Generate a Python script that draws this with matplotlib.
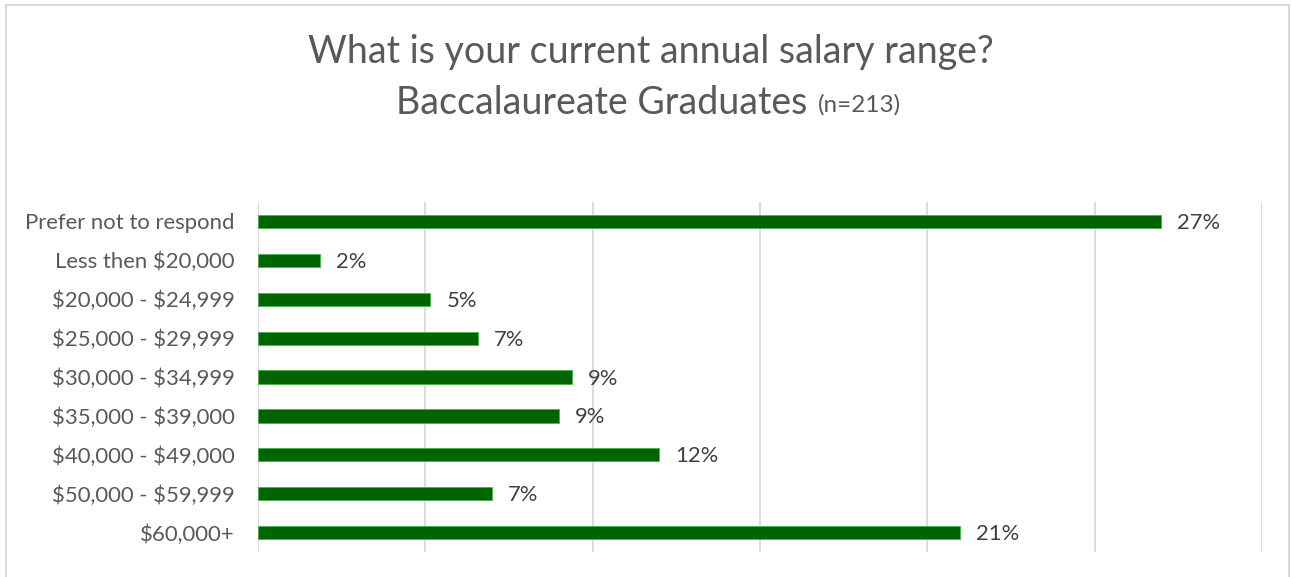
import matplotlib.pyplot as plt
from matplotlib.patches import Rectangle

# salary survey, baccalaureate graduates (n=213)
categories = ['Prefer not to respond', 'Less then $20,000', '$20,000 - $24,999',
              '$25,000 - $29,999', '$30,000 - $34,999', '$35,000 - $39,000',
              '$40,000 - $49,000', '$50,000 - $59,999', '$60,000+']
percents = [26.98, 1.85, 5.15, 6.57, 9.38, 8.99, 11.98, 6.99, 20.98]
labels = ['27%', '2%', '5%', '7%', '9%', '9%', '12%', '7%', '21%']

plt.rcParams['font.family'] = ['Lato', 'DejaVu Sans']
plt.rcParams['text.parse_math'] = False

fig = plt.figure(figsize=(12.91, 5.77), dpi=100)
ax = fig.add_axes([258 / 1291, 1 - 552 / 577, (1262 - 258) / 1291, 350 / 577])

y = list(range(len(categories)))
ax.barh(y, percents, height=0.34, color='#006400', edgecolor='#4caf50', linewidth=0.6, zorder=3)
for i, (v, lab) in enumerate(zip(percents, labels)):
    ax.text(v + 0.48, i + 0.04, lab, va='center', ha='left', fontsize=15.8, color='#404040')

ax.set_xlim(0, 30)
ax.set_ylim(8.5, -0.5)
ax.set_xticks([0, 5, 10, 15, 20, 25, 30])
ax.xaxis.grid(True, color='#d9d9d9', linewidth=1.3, zorder=0)
ax.tick_params(axis='x', length=0, labelbottom=False)
ax.set_yticks(y)
ax.set_yticklabels(categories, fontsize=15.9, color='#595959')
ax.tick_params(axis='y', length=0, pad=17)
for s in ax.spines.values():
    s.set_visible(False)

# title lines
fig.text(650.5 / 1291, 1 - 52 / 577, 'What is your current annual salary range?',
         ha='center', va='center', fontsize=27, color='#595959')
t2 = fig.text(0, 1 - 103 / 577, 'Baccalaureate Graduates',
              ha='left', va='center', fontsize=27, color='#595959')
t3 = fig.text(0, 1 - 105 / 577, '(n=213)', ha='left', va='center',
              fontsize=17.5, color='#595959')
r = fig.canvas.get_renderer()
w2 = t2.get_window_extent(r).width
w3 = t3.get_window_extent(r).width
gap = 10
start = 648.5 - (w2 + gap + w3) / 2
t2.set_x(start / 1291)
t3.set_x((start + w2 + gap) / 1291)

# chart border
fig.patches.append(Rectangle((6 / 1291, -0.01), (1289 - 6) / 1291, 1 - 5 / 577 + 0.01,
                             transform=fig.transFigure, fill=False,
                             edgecolor='#d9d9d9', linewidth=1.5))

plt.savefig('out.png', dpi=100)
